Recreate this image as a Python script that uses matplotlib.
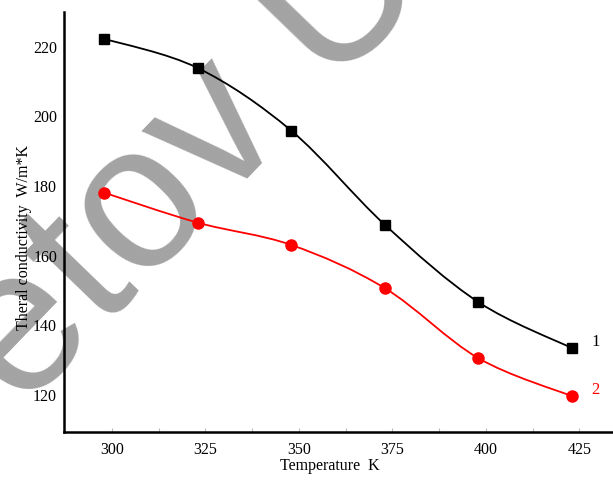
import numpy as np
import matplotlib
matplotlib.use("Agg")
import matplotlib.pyplot as plt
from matplotlib.path import Path
from matplotlib.patches import PathPatch
from matplotlib.transforms import IdentityTransform

# --- data ---
temps = [298, 323, 348, 373, 398, 423]
k_curve1 = [222.3, 213.9, 195.9, 168.9, 146.7, 133.5]
k_curve2 = [178.1, 169.5, 163.1, 150.7, 130.6, 119.7]
x_ticks = [300, 325, 350, 375, 400, 425]
y_ticks = [120, 140, 160, 180, 200, 220]


def smooth_path(xs, ys):
    # Catmull-Rom through the points, drawn as cubic Bezier segments
    pts = np.column_stack([xs, ys]).astype(float)
    ext = np.vstack([pts[0], pts, pts[-1]])
    verts = [pts[0]]
    codes = [Path.MOVETO]
    for i in range(len(pts) - 1):
        p0, p1, p2, p3 = ext[i], ext[i + 1], ext[i + 2], ext[i + 3]
        verts += [p1 + (p2 - p0) / 6, p2 - (p3 - p1) / 6, p2]
        codes += [Path.CURVE4] * 3
    return Path(verts, codes)


plt.rcParams['font.family'] = ['Liberation Serif', 'DejaVu Serif']

fig = plt.figure(figsize=(6.13, 4.8), dpi=100)
ax = fig.add_axes([0.1044, 0.1, 0.8956, 0.875])

# watermark
ax.text(190, 318, "etov U", transform=IdentityTransform(), fontsize=148,
        family='Liberation Sans', color='#a3a3a3', rotation=46,
        ha='center', va='center', rotation_mode='anchor', zorder=1,
        clip_on=False)

for ys, col, mk, ms in [(k_curve1, 'black', 's', 7), (k_curve2, 'red', 'o', 8)]:
    ax.add_patch(PathPatch(smooth_path(temps, ys), facecolor='none',
                           edgecolor=col, lw=1.3, zorder=2))
    ax.plot(temps, ys, ls='none', marker=mk, ms=ms, color=col, zorder=3)

ax.text(428.3, 135.3, "1", fontsize=12, color='black', ha='left', va='center')
ax.text(428.3, 121.5, "2", fontsize=12, color='red', ha='left', va='center')

ax.set_xlim(287.2, 434)
ax.set_ylim(109.4, 230)
ax.set_xticks(x_ticks)
ax.set_xticks(np.arange(312.5, 430, 25), minor=True)
ax.set_yticks(y_ticks)
ax.tick_params(axis='x', which='both', direction='in', length=3, width=0.8,
               color='#bbbbbb', labelsize=11.5, pad=7)
ax.tick_params(axis='y', length=0, labelsize=11.5, pad=5)

for s in ['top', 'right']:
    ax.spines[s].set_visible(False)
for s in ['left', 'bottom']:
    ax.spines[s].set_linewidth(1.8)
    ax.spines[s].set_zorder(2.5)

ax.set_xlabel("Temperature  K", fontsize=11.5, labelpad=2)
ax.xaxis.set_label_coords(0.485, -0.062)
ax.set_ylabel("Theral conductivity  W/m*K", fontsize=11.5)
ax.yaxis.set_label_coords(-0.058, 0.464)

fig.savefig("out.png", dpi=100)
